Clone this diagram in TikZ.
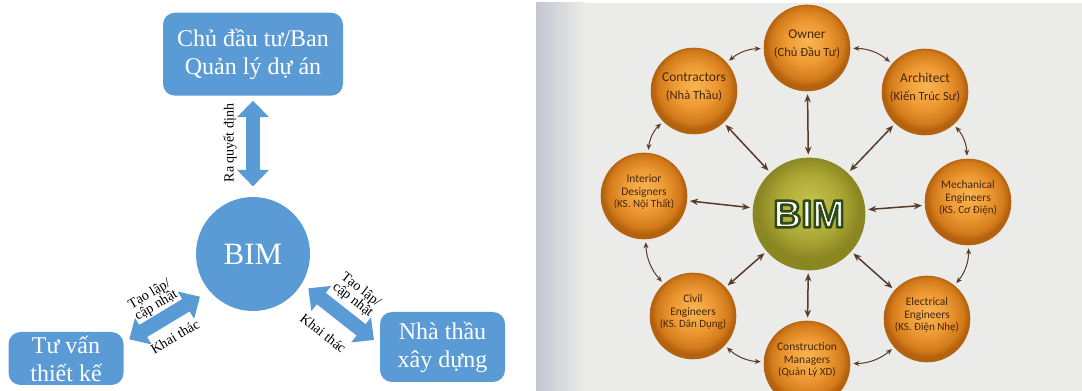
\documentclass[tikz,border=0pt]{standalone}
\usepackage{fontspec}
\setmainfont{Liberation Serif}
\newfontfamily\ringfont{Carlito}
\newfontfamily\hubfont{Liberation Sans}
\usetikzlibrary{arrows.meta,calc}

\definecolor{bimblue}{HTML}{5B9BD5}
\definecolor{ringtext}{HTML}{45260E}
\definecolor{arrowbrown}{HTML}{5A3A28}
\definecolor{orLight}{HTML}{F8B552}
\definecolor{orMid}{HTML}{EE9A34}
\definecolor{orDark}{HTML}{D27A1A}
\definecolor{orRim}{HTML}{B5620F}
\definecolor{grLight}{HTML}{C8C450}
\definecolor{grMid}{HTML}{AEA936}
\definecolor{grDark}{HTML}{8A8722}
\definecolor{paperA}{HTML}{C5C6D0}
\definecolor{paperB}{HTML}{EBEBE9}

\pgfdeclareradialshading{orangeball}{\pgfpoint{0bp}{4bp}}{color(0bp)=(orLight); color(12bp)=(orMid); color(21bp)=(orDark); color(24bp)=(orRim); color(50bp)=(orRim)}
\pgfdeclareradialshading{greenball}{\pgfpoint{0bp}{5bp}}{color(0bp)=(grLight); color(14bp)=(grMid); color(23bp)=(grDark); color(50bp)=(grDark)}

\newcommand{\subline}[1]{{\fontsize{12.5}{14}\selectfont #1}}
\newcommand{\smallsub}[1]{{\fontsize{11}{12}\selectfont #1}}
% white letters with a dark green outline (fill + stroke text mode)
\newcommand{\outlined}[1]{\special{pdf:code 0.18 0.29 0.09 RG 2.6 w 1 j 2 Tr}#1\special{pdf:code 0 Tr}}

\begin{document}
\begin{tikzpicture}[x=1pt,y=1pt,font=\fontsize{24}{28}\selectfont]
      \tikzstyle{box}=[rectangle,rounded corners=12pt,fill=bimblue,text=white,align=center,inner sep=0pt]
      \tikzstyle{hub}=[circle,fill=bimblue,text=white,minimum size=114pt,inner sep=0pt,font=\fontsize{31}{31}\selectfont]
      \tikzstyle{blockarrow}=[draw=bimblue,line width=14.5pt,{Triangle[length=16.5pt,width=31pt]}-{Triangle[length=16.5pt,width=31pt]}]
      \tikzstyle{arrow label}=[fill=white,inner sep=1pt,align=center,font=\fontsize{14}{13}\selectfont]
      \tikzstyle{role}=[circle,minimum size=86pt,inner sep=0pt,shade,shading=orangeball,draw=orRim,line width=0.6pt]
      \tikzstyle{role text}=[text=ringtext,align=center,inner sep=0pt,font=\ringfont\fontsize{13.5}{16}\selectfont]
      \tikzstyle{role text small}=[text=ringtext,align=center,inner sep=0pt,font=\ringfont\fontsize{11.5}{12.5}\selectfont]
      \tikzstyle{spoke}=[draw=arrowbrown,line width=1.5pt,{Stealth[length=8pt,width=6.5pt]}-{Stealth[length=8pt,width=6.5pt]},shorten <=3pt,shorten >=3pt]
      \tikzstyle{ring}=[draw=arrowbrown,line width=1pt,{Stealth[length=6pt,width=5pt]}-{Stealth[length=6pt,width=5pt]},shorten <=3pt,shorten >=3pt]

      \useasboundingbox (0,0) rectangle (1082,391);
      % paper behind the scanned chart
      \fill[paperB] (536,0) rectangle (1082,388);
      \shade[left color=paperA,right color=paperB] (536,0) rectangle (585,388);

      % left: BIM with the three parties
      \node[box,minimum width=180pt,minimum height=83pt] (cdt) at (253,336.8) {Chủ đầu tư/Ban\\Quản lý dự án};
      \node[hub] (bimL) at (253,137) {BIM};
      \node[box,minimum width=115pt,minimum height=53pt] (tvtk) at (66,32.5) {Tư vấn\\thiết kế};
      \node[box,minimum width=125pt,minimum height=70pt] (ntxd) at (442.5,44) {Nhà thầu\\xây dựng};
      \coordinate (tvA) at (129.3,51.7);
      \coordinate (bimA) at (200,94.3);
      \coordinate (bimB) at (308.3,102.7);
      \coordinate (ntA) at (374,51);

      \draw[blockarrow,shorten <=4.8pt,shorten >=10.4pt] (cdt.south) -- (bimL.north);
      \draw[blockarrow] (tvA) -- (bimA);
      \draw[blockarrow] (bimB) -- (ntA);

      \node[arrow label,fill=none,rotate=90] (rqd) at (230,248) {Ra quyết định};
      \node[arrow label,rotate=31] (tl1) at (153,91) {Tạo lập/\\cập nhật};
      \node[arrow label,rotate=31] (kt1) at (175,54.3) {Khai thác};
      \node[arrow label,rotate=-38] (tl2) at (356.7,96) {Tạo lập/\\cập nhật};
      \node[arrow label,rotate=-38] (kt2) at (323.3,57.7) {Khai thác};

      % right: BIM wheel
      \node[circle,minimum size=112pt,inner sep=0pt,shade,shading=greenball,draw=grDark,line width=0.8pt,text=white,
            font=\hubfont\bfseries\fontsize{39}{39}\selectfont] (bim) at (809,177) {\outlined{BIM}};

      \node[role] (own) at (807,343) {};
      \node[role] (arc) at (925,299) {};
      \node[role] (mec) at (968,189) {};
      \node[role] (ele) at (927,72) {};
      \node[role] (cmg) at (807,27) {};
      \node[role] (civ) at (693,75) {};
      \node[role] (int) at (644,195) {};
      \node[role] (ctr) at (694,300) {};

      \node[role text] (ownT) at ([yshift=4pt]own.center) {Owner\\[2pt]\subline{(Chủ Đầu Tư)}};
      \node[role text] (arcT) at ([yshift=4pt]arc.center) {Architect\\[2pt]\subline{(Kiến Trúc Sư)}};
      \node[role text] (ctrT) at ([yshift=4pt]ctr.center) {Contractors\\[2pt]\subline{(Nhà Thầu)}};
      \node[role text small] (mecT) at ([yshift=4pt]mec.center) {Mechanical\\Engineers\\\smallsub{(KS. Cơ Điện)}};
      \node[role text small] (eleT) at ([yshift=4pt]ele.center) {Electrical\\Engineers\\\smallsub{(KS. Điện Nhẹ)}};
      \node[role text small] (cmgT) at ([yshift=4pt]cmg.center) {Construction\\Managers\\\smallsub{(Quản Lý XD)}};
      \node[role text small] (civT) at ([yshift=4pt]civ.center) {Civil\\Engineers\\\smallsub{(KS. Dân Dụng)}};
      \node[role text small] (intT) at ([yshift=4pt]int.center) {Interior\\Designers\\\smallsub{(KS. Nội Thất)}};

      \foreach \r in {own,arc,mec,ele,cmg,civ,int,ctr}
        \draw[spoke] (bim) -- (\r);
      \foreach \a/\b in {ctr/own,own/arc,arc/mec,mec/ele,ele/cmg,cmg/civ,civ/int,int/ctr}
        \draw[ring] (\a) to[bend left=20] (\b);
\end{tikzpicture}
\end{document}
